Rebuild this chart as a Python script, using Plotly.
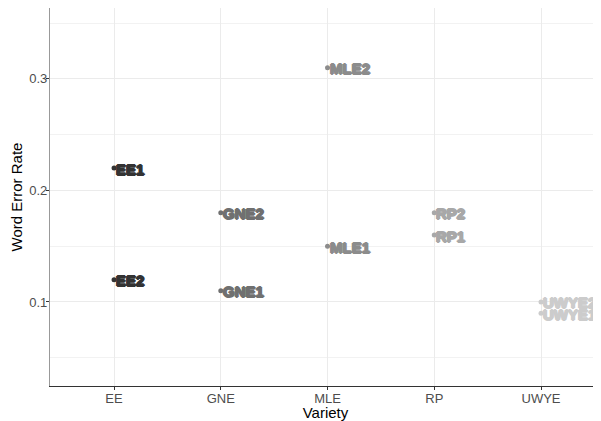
import plotly.graph_objects as go

varieties = ["EE", "GNE", "MLE", "RP", "UWYE"]
point_variety = ["EE", "EE", "GNE", "GNE", "MLE", "MLE", "RP", "RP", "UWYE", "UWYE"]
point_label = ["EE1", "EE2", "GNE1", "GNE2", "MLE1", "MLE2", "RP1", "RP2", "UWYE1", "UWYE2"]
wer = [0.22, 0.12, 0.11, 0.18, 0.15, 0.31, 0.16, 0.18, 0.09, 0.10]
colors = {"EE": "#333333", "GNE": "#707070", "MLE": "#8c8c8c", "RP": "#a8a8a8", "UWYE": "#cccccc"}

fig = go.Figure()
for v in varieties:
    idx = [i for i, pv in enumerate(point_variety) if pv == v]
    fig.add_trace(go.Scatter(
        x=[point_variety[i] for i in idx],
        y=[wer[i] for i in idx],
        mode="markers",
        marker=dict(color=colors[v], size=5),
        showlegend=False,
        cliponaxis=False,
    ))

for pv, lab, val in zip(point_variety, point_label, wer):
    c = colors[pv]
    fig.add_annotation(
        x=pv, y=val, text="<b>" + lab + "</b>",
        showarrow=False, xanchor="left", yanchor="middle", xshift=0, yshift=-1,
        font=dict(family="Liberation Sans, Arial", size=15, color=c,
                  shadow=f"1px 0 0 {c}, -1px 0 0 {c}, 0 1px 0 {c}, 0 -1px 0 {c}"),
    )

fig.update_layout(
    width=593, height=413,
    margin=dict(l=42, r=0, t=0, b=35),
    plot_bgcolor="white", paper_bgcolor="white",
    font=dict(family="Liberation Sans, Arial", color="#4d4d4d"),
    xaxis=dict(
        type="category", categoryorder="array", categoryarray=varieties,
        range=[-0.6, 4.562], automargin=False,
        showgrid=True, gridcolor="#ebebeb", gridwidth=1,
        showline=True, linecolor="#333333", linewidth=1.2, mirror=True,
        ticks="outside", ticklen=3, tickcolor="#333333",
        ticklabelstandoff=-3,
        tickfont=dict(size=13, color="#4d4d4d"),
        title=dict(text="Variety", font=dict(size=15, color="black"), standoff=0),
        zeroline=False,
    ),
    yaxis=dict(
        range=[0.0247, 0.3635], automargin=False,
        tickvals=[0.1, 0.2, 0.3], ticktext=["0.1", "0.2", "0.3"],
        showgrid=True, gridcolor="#ebebeb", gridwidth=1,
        minor=dict(tickvals=[0.05, 0.15, 0.25, 0.35], showgrid=True, gridcolor="#f2f2f2", gridwidth=1),
        showline=True, linecolor="#999999", linewidth=1.2,
        ticks="outside", ticklen=3, tickcolor="#333333",
        ticklabelstandoff=-4,
        tickfont=dict(size=13, color="#4d4d4d"),
        title=dict(text="Word Error Rate", font=dict(size=15, color="black"), standoff=8),
        zeroline=False,
    ),
)

fig.write_html("out.html")
